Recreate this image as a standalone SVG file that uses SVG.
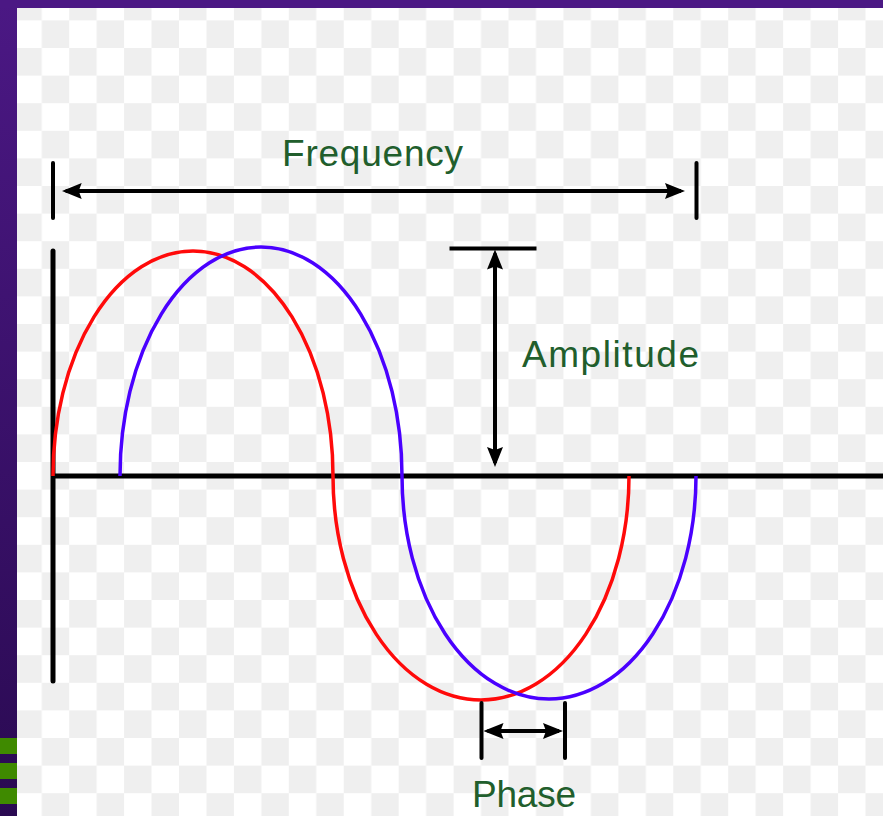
<svg xmlns="http://www.w3.org/2000/svg" width="883" height="816" viewBox="0 0 883 816">
  <defs>
    <pattern id="checker" x="14.24" y="-7.2" width="54.92" height="55.2" patternUnits="userSpaceOnUse">
      <rect width="54.92" height="55.2" fill="#ffffff"/>
      <rect x="0" y="0" width="27.46" height="27.6" fill="#efefef"/>
      <rect x="27.46" y="27.6" width="27.46" height="27.6" fill="#efefef"/>
    </pattern>
    <linearGradient id="purple" x1="0" y1="0" x2="0" y2="1">
      <stop offset="0" stop-color="#4b1884"/>
      <stop offset="1" stop-color="#2a0a52"/>
    </linearGradient>
    <marker id="ah" viewBox="0 0 20 16" refX="16" refY="8" markerWidth="20" markerHeight="16" markerUnits="userSpaceOnUse" orient="auto-start-reverse">
      <path d="M0,0 L20,8 L0,16 L3,8 z" fill="#000"/>
    </marker>
  </defs>
  <style>
    .lbl { font-family: "Liberation Sans", Arial, sans-serif; font-size: 37px; fill: #215e2c; }
    .dim { stroke: #000; stroke-width: 4; fill: none; }
    .tick { stroke: #000; stroke-width: 4; fill: none; stroke-linecap: round; }
    .axis { stroke: #000; stroke-width: 5; fill: none; }
    .wave { fill: none; stroke-width: 3.5; }
  </style>

  <g id="background">
    <rect x="0" y="0" width="883" height="816" fill="url(#purple)"/>
    <rect x="0" y="0" width="883" height="8" fill="#4b1884"/>
    <rect x="17" y="8" width="866" height="808" fill="url(#checker)"/>
    <rect x="0" y="738" width="17" height="16" fill="#3f8a00"/>
    <rect x="0" y="763" width="17" height="16" fill="#3f8a00"/>
    <rect x="0" y="788" width="17" height="16" fill="#3f8a00"/>
  </g>

  <g id="axes">
    <line class="axis" x1="53" y1="251" x2="53" y2="681" stroke-linecap="round"/>
    <line class="axis" x1="51" y1="476" x2="883" y2="476"/>
  </g>

  <g id="curves">
    <path id="red-wave" class="wave" stroke="#ff0a0a" d="M53,476 A140,225 0 0 1 333,476 A148,224 0 0 0 629,476"/>
    <path id="blue-wave" class="wave" stroke="#4a00ff" d="M120,476 A141,229 0 0 1 402,476 A147,223 0 0 0 696,476"/>
  </g>

  <g id="connectors">
    <line class="dim" x1="65.7" y1="191" x2="681" y2="191" marker-start="url(#ah)" marker-end="url(#ah)"/>
    <line class="dim" x1="495" y1="253.5" x2="495" y2="463" marker-start="url(#ah)" marker-end="url(#ah)"/>
    <line class="dim" x1="487.5" y1="731" x2="559" y2="731" marker-start="url(#ah)" marker-end="url(#ah)"/>
  </g>

  <g id="frequency">
    <line class="tick" x1="53" y1="163" x2="53" y2="218"/>
    <line class="tick" x1="696.5" y1="163" x2="696.5" y2="218"/>
    <text class="lbl" x="282" y="165.5" textLength="181" lengthAdjust="spacing">Frequency</text>
  </g>

  <g id="amplitude">
    <line class="dim" x1="449.5" y1="248.5" x2="536.5" y2="248.5"/>
    <text class="lbl" x="522" y="366.5" textLength="177" lengthAdjust="spacing">Amplitude</text>
  </g>

  <g id="phase">
    <line class="tick" x1="481.5" y1="703" x2="481.5" y2="758"/>
    <line class="tick" x1="565" y1="703" x2="565" y2="758"/>
    <text class="lbl" x="472" y="807" textLength="104" lengthAdjust="spacing">Phase</text>
  </g>
</svg>
